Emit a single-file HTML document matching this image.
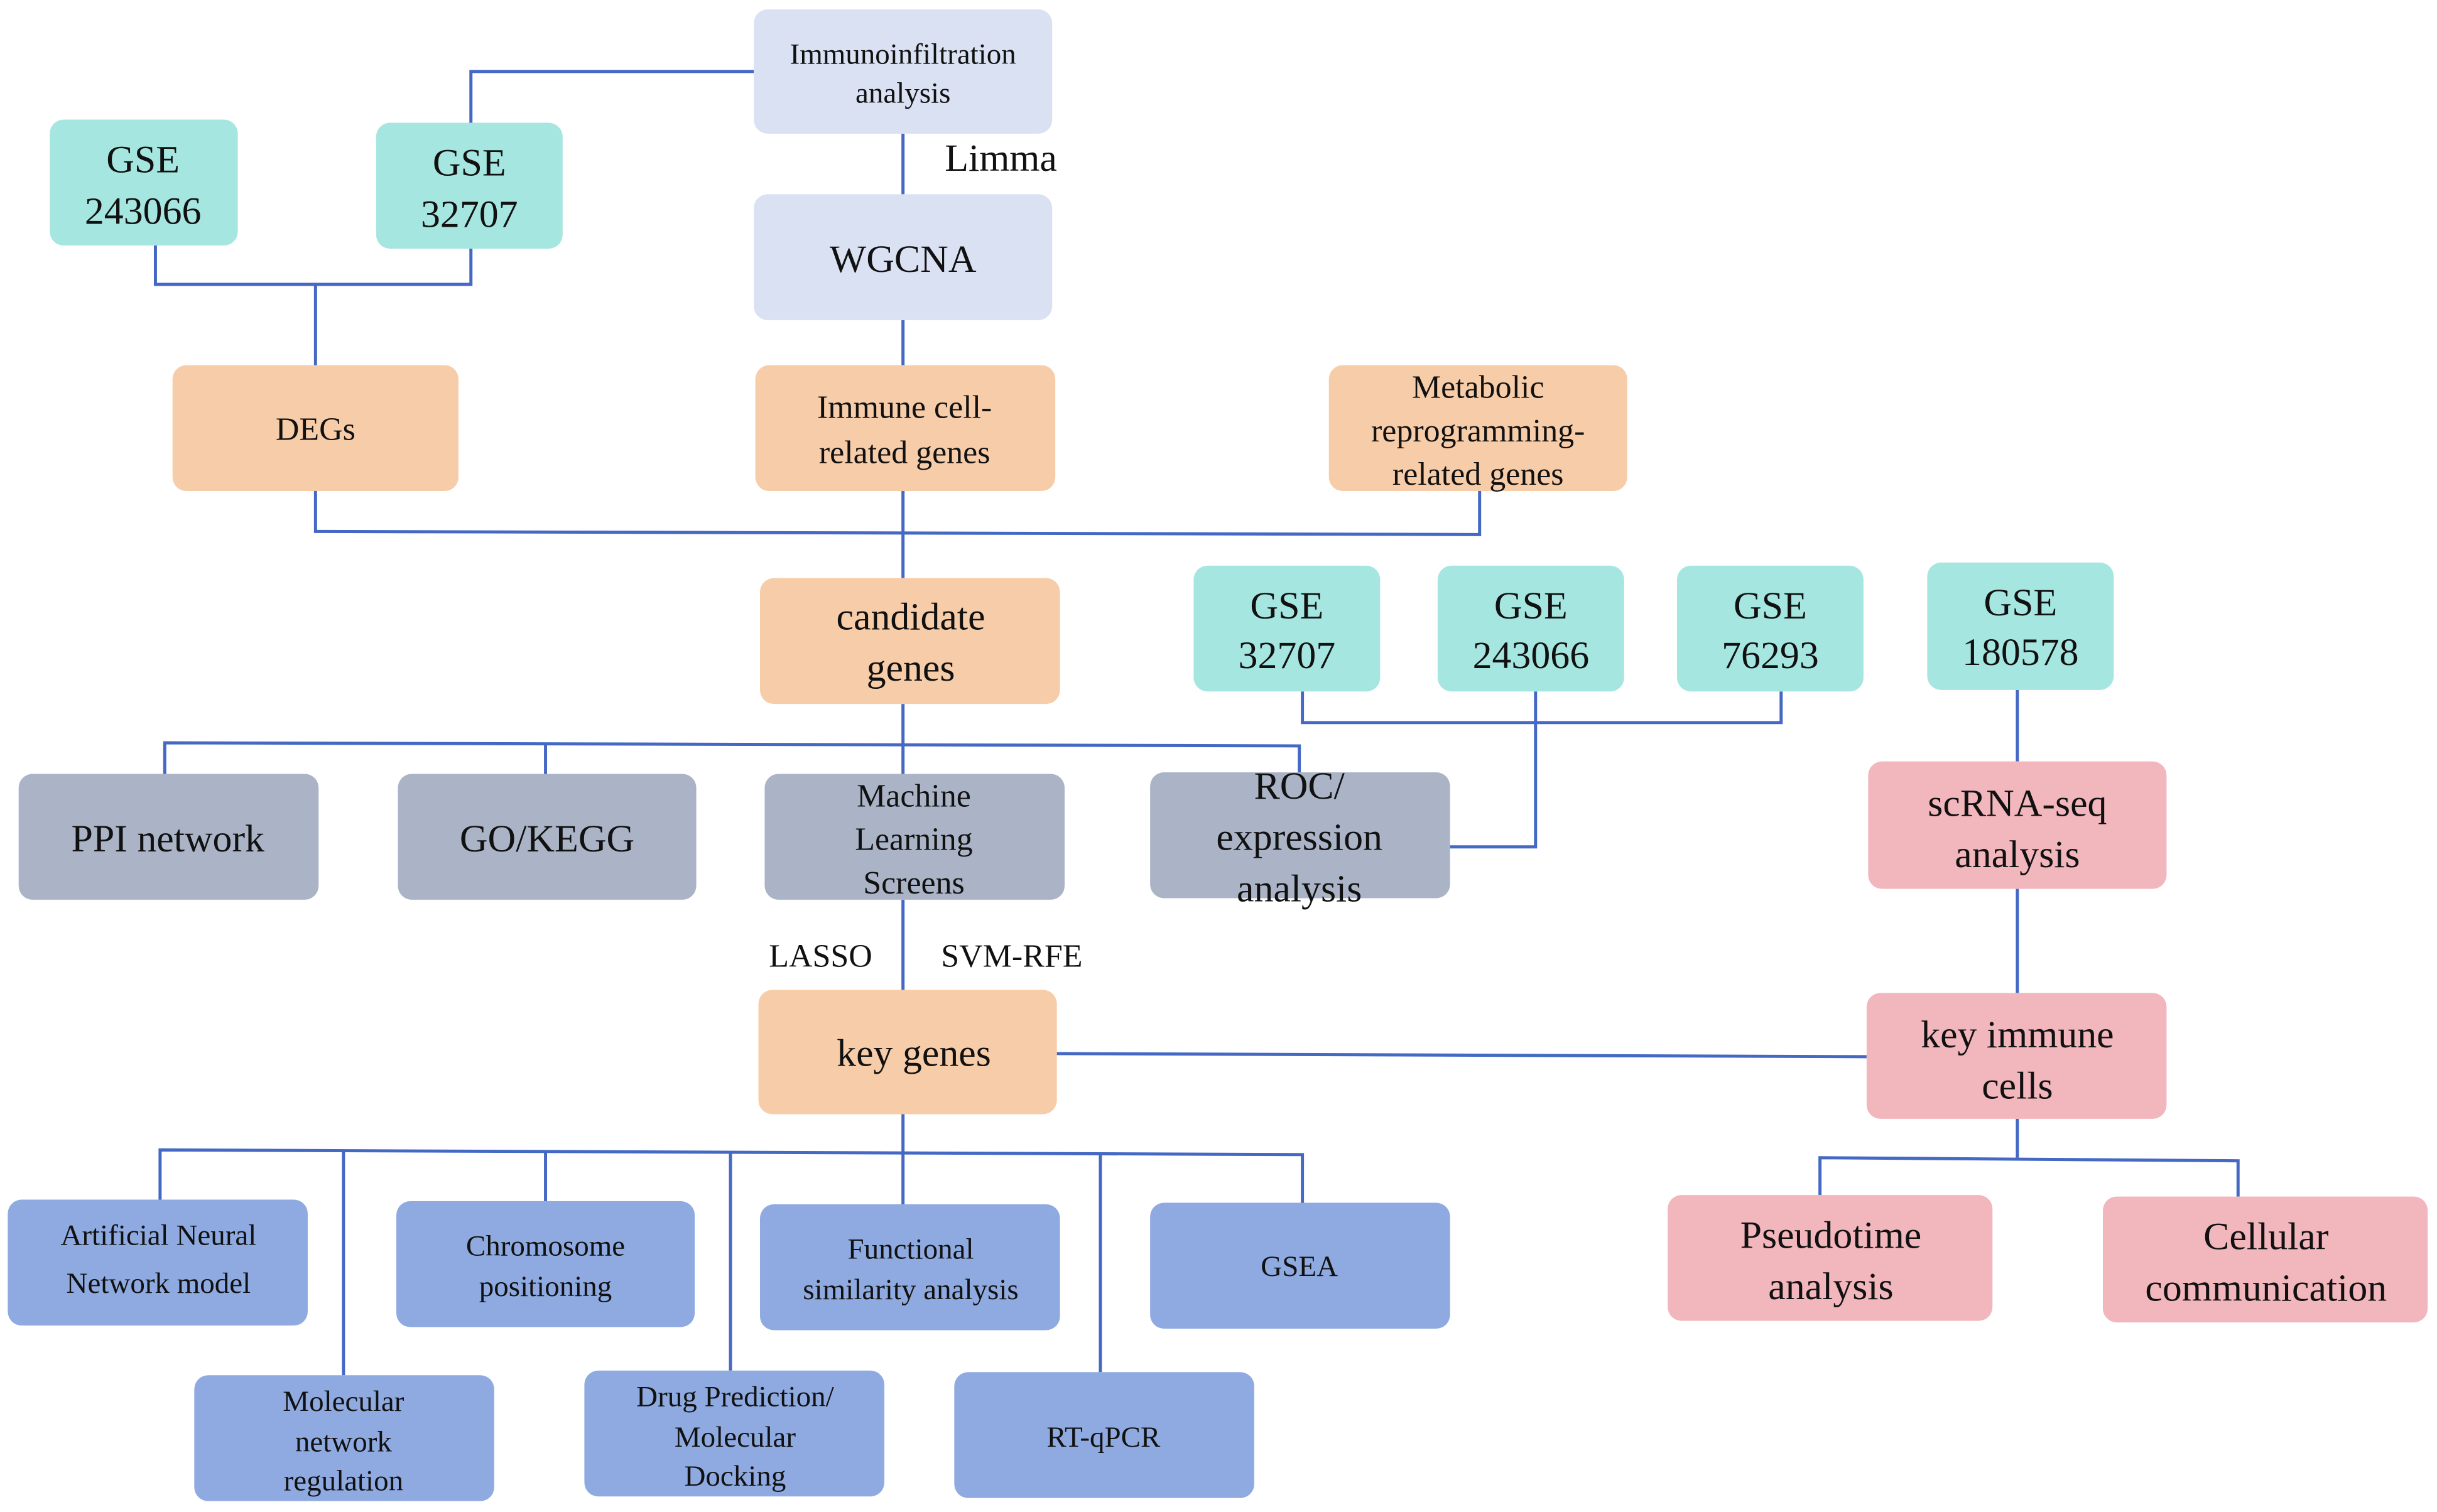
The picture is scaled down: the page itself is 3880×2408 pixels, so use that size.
<!DOCTYPE html>
<html><head><meta charset="utf-8"><style>
html,body{margin:0;padding:0;background:#fff;width:3880px;height:2408px;overflow:hidden}
svg{display:block}
text{font-family:"Liberation Serif",serif;fill:#111;text-anchor:middle}
</style></head><body>
<svg width="3880" height="2408" viewBox="0 0 1568 973" preserveAspectRatio="none" xmlns="http://www.w3.org/2000/svg">
<g fill="none" stroke="#4468c4" stroke-width="2">
<polyline points="485,46 303,46 303,79"/>
<line x1="581" y1="86" x2="581" y2="125"/>
<polyline points="100,158 100,183 303,183 303,160"/>
<line x1="203" y1="183" x2="203" y2="235"/>
<line x1="581" y1="206" x2="581" y2="235"/>
<polyline points="203,316 203,342 952,344 952,316"/>
<line x1="581" y1="316" x2="581" y2="372"/>
<line x1="581" y1="453" x2="581" y2="498"/>
<polyline points="106,498 106,478 836,480 836,497"/>
<line x1="351" y1="479" x2="351" y2="498"/>
<polyline points="838,445 838,465 1146,465 1146,445"/>
<polyline points="988,445 988,545 933,545"/>
<line x1="1298" y1="444" x2="1298" y2="490"/>
<line x1="1298" y1="572" x2="1298" y2="639"/>
<line x1="581" y1="579" x2="581" y2="637"/>
<line x1="680" y1="678" x2="1201" y2="680"/>
<line x1="1298" y1="720" x2="1298" y2="745"/>
<polyline points="1171,769 1171,745 1440,747 1440,770"/>
<line x1="581" y1="717" x2="581" y2="775"/>
<polyline points="103,772 103,740 838,743 838,774"/>
<line x1="221" y1="740" x2="221" y2="885"/>
<line x1="351" y1="741" x2="351" y2="773"/>
<line x1="470" y1="741" x2="470" y2="882"/>
<line x1="708" y1="742" x2="708" y2="883"/>
</g>
<g>
<rect x="485" y="6" width="192" height="80" rx="9" fill="#dae1f3"/>
<rect x="485" y="125" width="192" height="81" rx="9" fill="#dae1f3"/>
<rect x="32" y="77" width="121" height="81" rx="9" fill="#a6e6e0"/>
<rect x="242" y="79" width="120" height="81" rx="9" fill="#a6e6e0"/>
<rect x="768" y="364" width="120" height="81" rx="9" fill="#a6e6e0"/>
<rect x="925" y="364" width="120" height="81" rx="9" fill="#a6e6e0"/>
<rect x="1079" y="364" width="120" height="81" rx="9" fill="#a6e6e0"/>
<rect x="1240" y="362" width="120" height="82" rx="9" fill="#a6e6e0"/>
<rect x="111" y="235" width="184" height="81" rx="9" fill="#f7cca8"/>
<rect x="486" y="235" width="193" height="81" rx="9" fill="#f7cca8"/>
<rect x="855" y="235" width="192" height="81" rx="9" fill="#f7cca8"/>
<rect x="489" y="372" width="193" height="81" rx="9" fill="#f7cca8"/>
<rect x="488" y="637" width="192" height="80" rx="9" fill="#f7cca8"/>
<rect x="12" y="498" width="193" height="81" rx="9" fill="#abb4c7"/>
<rect x="256" y="498" width="192" height="81" rx="9" fill="#abb4c7"/>
<rect x="492" y="498" width="193" height="81" rx="9" fill="#abb4c7"/>
<rect x="740" y="497" width="193" height="81" rx="9" fill="#abb4c7"/>
<rect x="1202" y="490" width="192" height="82" rx="9" fill="#f2b6bd"/>
<rect x="1201" y="639" width="193" height="81" rx="9" fill="#f2b6bd"/>
<rect x="1073" y="769" width="209" height="81" rx="9" fill="#f2b6bd"/>
<rect x="1353" y="770" width="209" height="81" rx="9" fill="#f2b6bd"/>
<rect x="5" y="772" width="193" height="81" rx="9" fill="#8eaae0"/>
<rect x="255" y="773" width="192" height="81" rx="9" fill="#8eaae0"/>
<rect x="489" y="775" width="193" height="81" rx="9" fill="#8eaae0"/>
<rect x="740" y="774" width="193" height="81" rx="9" fill="#8eaae0"/>
<rect x="125" y="885" width="193" height="81" rx="9" fill="#8eaae0"/>
<rect x="376" y="882" width="193" height="81" rx="9" fill="#8eaae0"/>
<rect x="614" y="883" width="193" height="81" rx="9" fill="#8eaae0"/>
</g>
<g font-size="19">
<text x="581" y="41">Immunoinfiltration</text><text x="581" y="66">analysis</text>
<text x="102" y="801">Artificial Neural</text><text x="102" y="832">Network model</text>
<text x="351" y="808">Chromosome</text><text x="351" y="834">positioning</text>
<text x="586" y="810">Functional</text><text x="586" y="836">similarity analysis</text>
<text x="836" y="821">GSEA</text>
<text x="221" y="908">Molecular</text><text x="221" y="934">network</text><text x="221" y="959">regulation</text>
<text x="473" y="905">Drug Prediction/</text><text x="473" y="931">Molecular</text><text x="473" y="956">Docking</text>
<text x="710" y="931">RT-qPCR</text>
</g>
<g font-size="21">
<text x="203" y="283">DEGs</text>
<text x="582" y="269">Immune cell-</text><text x="582" y="298">related genes</text>
<text x="951" y="256">Metabolic</text><text x="951" y="284">reprogramming-</text><text x="951" y="312">related genes</text>
<text x="588" y="519">Machine</text><text x="588" y="547">Learning</text><text x="588" y="575">Screens</text>
<text x="528" y="622">LASSO</text><text x="651" y="622">SVM-RFE</text>
</g>
<g font-size="25">
<text x="92" y="111">GSE</text><text x="92" y="144">243066</text>
<text x="302" y="113">GSE</text><text x="302" y="146">32707</text>
<text x="581" y="175">WGCNA</text>
<text x="644" y="110">Limma</text>
<text x="586" y="405">candidate</text><text x="586" y="438">genes</text>
<text x="828" y="398">GSE</text><text x="828" y="430">32707</text>
<text x="985" y="398">GSE</text><text x="985" y="430">243066</text>
<text x="1139" y="398">GSE</text><text x="1139" y="430">76293</text>
<text x="1300" y="396">GSE</text><text x="1300" y="428">180578</text>
<text x="108" y="548">PPI network</text>
<text x="352" y="548">GO/KEGG</text>
<text x="836" y="514">ROC/</text><text x="836" y="547">expression</text><text x="836" y="580">analysis</text>
<text x="1298" y="525">scRNA-seq</text><text x="1298" y="558">analysis</text>
<text x="588" y="686">key genes</text>
<text x="1298" y="674">key immune</text><text x="1298" y="707">cells</text>
<text x="1178" y="803">Pseudotime</text><text x="1178" y="836">analysis</text>
<text x="1458" y="804">Cellular</text><text x="1458" y="837">communication</text>
</g>
</svg>
</body></html>
